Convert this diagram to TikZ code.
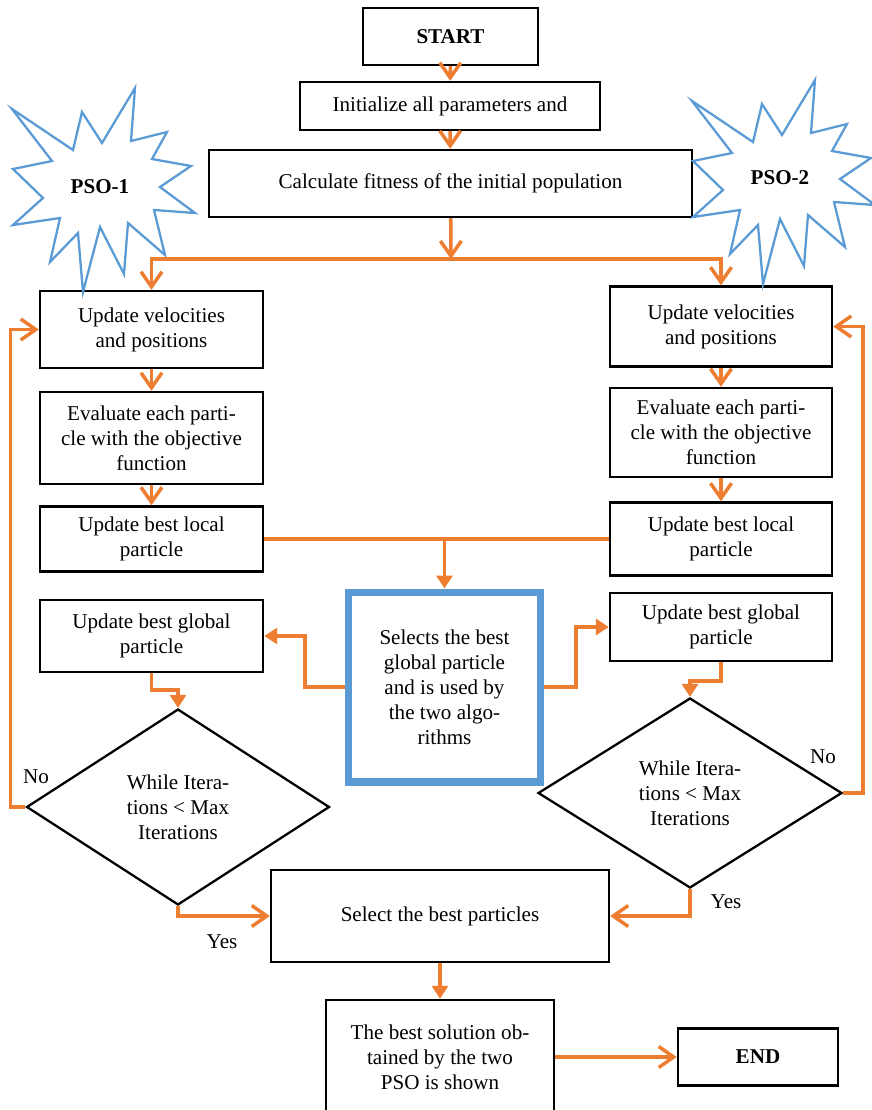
\documentclass[tikz,border=0pt]{standalone}
\usepackage{fontspec}
\setmainfont{Liberation Serif}
\usepackage{tikz}
\usetikzlibrary{shapes.geometric,arrows.meta}

\definecolor{floworange}{RGB}{237,125,49}
\definecolor{burstblue}{RGB}{91,155,213}

\begin{document}
\begin{tikzpicture}[
    x=0.02cm, y=-0.02cm,
    font=\fontsize{12}{14.2}\selectfont,
    box/.style={rectangle, draw, line width=1.4pt, align=center, inner sep=2pt},
    test/.style={diamond, draw, line width=1.3pt, align=center, inner sep=0pt},
    hub/.style={rectangle, draw=burstblue, line width=4pt, align=center, minimum width=3.84cm, minimum height=3.8cm},
    flow/.style={draw=floworange, line width=2pt},
    go/.style={flow, -{Straight Barb[length=3mm, width=4.2mm]}},
    push/.style={flow, -{Triangle[length=2.6mm, width=3.2mm]}},
    burst/.style={draw=burstblue, line width=1.3pt, fill=white, line join=miter},
    pics/starburst/.style={code={
        \path[burst] (-88,-78) -- (-27,-37) -- (-18,-75) -- (2,-44) -- (35,-99) -- (31,-46)
            -- (67,-55) -- (52,-28) -- (91,-21) -- (60,0) -- (95,26) -- (54,23)
            -- (65,68) -- (28,36) -- (24,87) -- (0,40) -- (-17,105) -- (-22,46)
            -- (-50,75) -- (-40,31) -- (-87,38) -- (-57,11) -- (-87,-18) -- (-48,-26) -- cycle;
    }}
]
    \useasboundingbox (0,0) rectangle (872,1110);
    \clip (0,0) rectangle (872,1110);

    % Common start
    \node[box, minimum width=3.5cm, minimum height=1.14cm] (start) at (450.5,36.5) {\textbf{START}};
    \node[box, minimum width=6cm, minimum height=0.96cm] (init) at (450,106) {Initialize all parameters and};
    \node[box, minimum width=9.66cm, minimum height=1.34cm] (fit) at (450.5,183.5) {Calculate fitness of the initial population};

    % PSO-1 column
    \node[box, minimum width=4.46cm, minimum height=1.54cm] (L1) at (151.5,329.5) {Update velocities\\and positions};
    \node[box, minimum width=4.46cm, minimum height=1.84cm] (L2) at (151.5,438) {Evaluate each parti-\\cle with the objective\\function};
    \node[box, minimum width=4.46cm, minimum height=1.3cm] (L3) at (151.5,539) {Update best local\\particle};
    \node[box, minimum width=4.46cm, minimum height=1.44cm] (L4) at (151.5,636) {Update best global\\particle};
    \node[test, minimum width=6.06cm, minimum height=3.92cm] (Ldia) at (178,807) {While Itera-\\tions < Max\\Iterations};

    % PSO-2 column
    \node[box, minimum width=4.44cm, minimum height=1.6cm] (R1) at (721,326.5) {Update velocities\\and positions};
    \node[box, minimum width=4.44cm, minimum height=1.78cm] (R2) at (721,432.5) {Evaluate each parti-\\cle with the objective\\function};
    \node[box, minimum width=4.44cm, minimum height=1.46cm] (R3) at (721,539) {Update best local\\particle};
    \node[box, minimum width=4.44cm, minimum height=1.36cm] (R4) at (721,627) {Update best global\\particle};
    \node[test, minimum width=6.08cm, minimum height=3.8cm] (Rdia) at (690,793) {While Itera-\\tions < Max\\Iterations};

    % Shared best particle
    \node[hub] (hub) at (444.5,687) {Selects the best\\global particle\\and is used by\\the two algo-\\rithms};

    % End part
    \node[box, minimum width=6.76cm, minimum height=1.84cm] (select) at (440,916) {Select the best particles};
    \node[box, minimum width=4.56cm, minimum height=2.28cm] (best) at (440,1057) {The best solution ob-\\tained by the two\\PSO is shown};
    \node[box, minimum width=3.2cm, minimum height=1.14cm] (end) at (758,1057) {\textbf{END}};

    % Star labels
    \pic at (100,187) {starburst};
    \pic at (780,179) {starburst};
    \node (pso1) at (100,187) {\textbf{PSO-1}};
    \node (pso2) at (780,178) {\textbf{PSO-2}};

    % Initialisation arrows
    \draw[go] (start) -- (init);
    \draw[go] (init) -- (fit);
    \coordinate (split) at (451,259);
    \draw[go] (fit) -- (split);
    \draw[go] (split) -| (L1);
    \draw[go] (split) -| (R1);

    % Inner steps
    \draw[go] (L1) -- (L2);
    \draw[go] (L2) -- (L3);
    \draw[go] (R1) -- (R2);
    \draw[go] (R2) -- (R3);

    % Local bests go to the shared box and back
    \draw[flow] (L3) -- (R3);
    \coordinate (join) at (hub.north |- L3.east);
    \draw[push] (join) -- (hub);
    \draw[push] (hub.west) -- ++(-40,0) |- (L4);
    \draw[push] (hub.east) -- ++(32,0) |- (R4);
    \draw[push] (L4.south) -- ++(0,17) -| (Ldia.north);
    \draw[push] (R4.south) -- ++(0,19) -| (Rdia.north);

    % Loops (No)
    \draw[go] (Ldia.west) -- ++(-15,0) |- (L1);
    \draw[go] (Rdia.east) -- ++(20,0) |- (R1);
    \node (no1) at (36,777) {No};
    \node (no2) at (823,757) {No};

    % Exits (Yes)
    \draw[go] (Ldia.south) |- (select);
    \draw[go] (Rdia.south) |- (select);
    \node (yes1) at (222,942) {Yes};
    \node (yes2) at (726,902) {Yes};

    \draw[push] (select) -- (best);
    \draw[go] (best) -- (end);
\end{tikzpicture}
\end{document}
